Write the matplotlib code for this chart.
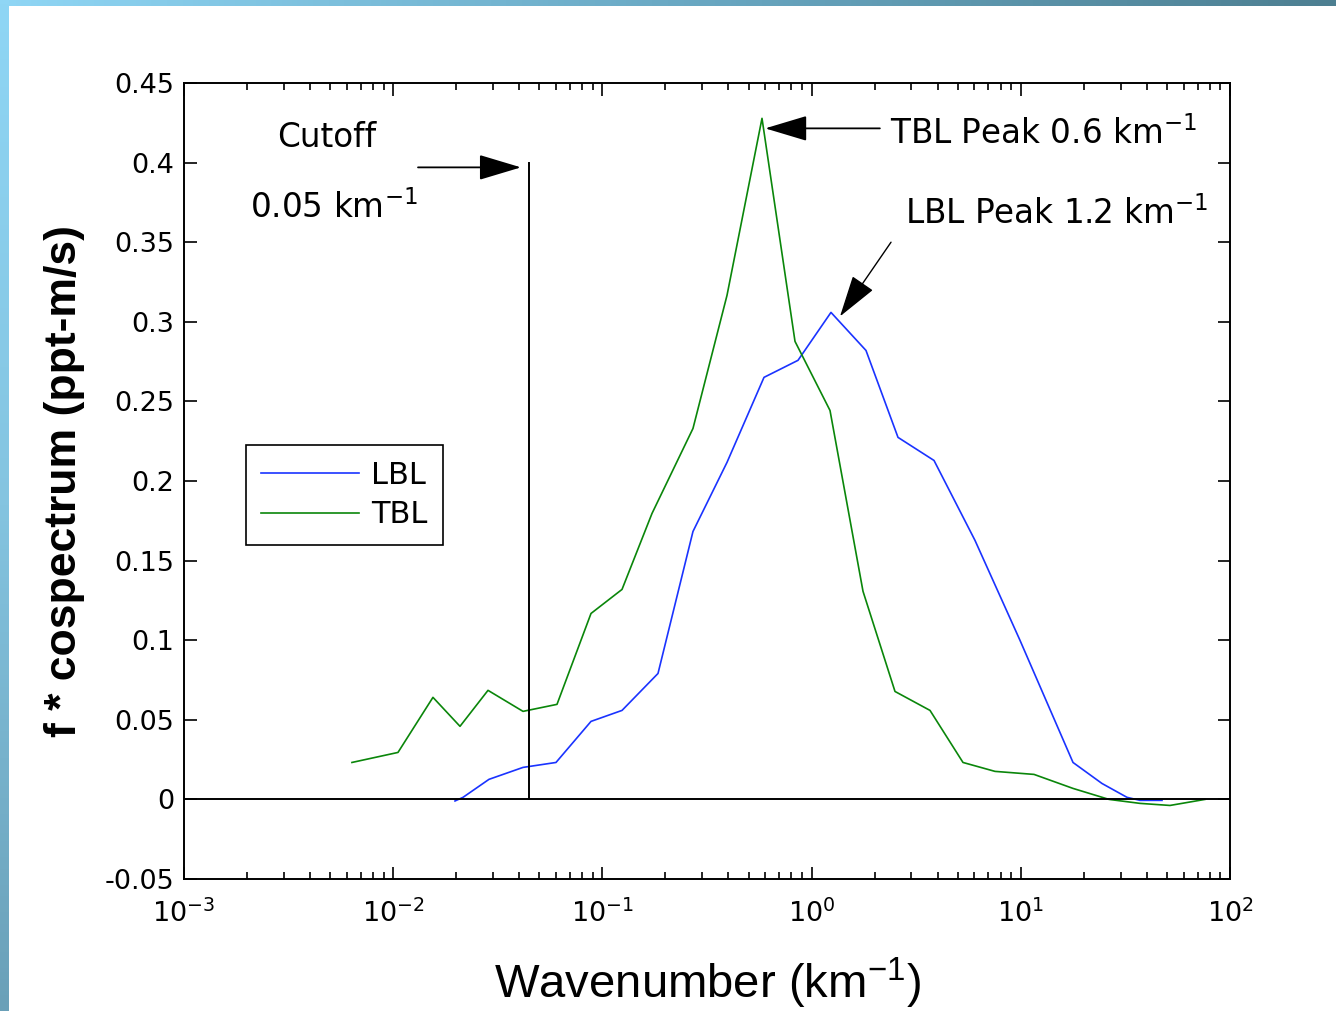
import numpy as np
import matplotlib
matplotlib.use('Agg')
import matplotlib.pyplot as plt
from matplotlib.colors import LinearSegmentedColormap
from matplotlib.ticker import LogLocator, FixedLocator

plt.rcParams['font.family'] = ['DejaVu Sans']
plt.rcParams['mathtext.fontset'] = 'dejavusans'

# wavenumber (km^-1) and f*cospectrum (ppt-m/s)
k_tbl = [0.00635, 0.01054, 0.01549, 0.02086, 0.02839, 0.04174, 0.06067, 0.08822,
         0.1241, 0.1726, 0.2710, 0.3941, 0.5793, 0.8330, 1.2246, 1.7610, 2.5041,
         3.6813, 5.2926, 7.5277, 11.567, 17.765, 26.40, 37.14, 51.67, 75.94]
c_tbl = [0.0232, 0.0295, 0.0641, 0.0459, 0.0685, 0.0553, 0.0597, 0.1168,
         0.1319, 0.1796, 0.2330, 0.3166, 0.4278, 0.2877, 0.2443, 0.1307, 0.0678,
         0.0559, 0.0232, 0.0176, 0.0157, 0.0069, 0.0, -0.0025, -0.0038, 0.0]

k_lbl = [0.01974, 0.02157, 0.02870, 0.04174, 0.06000, 0.08822, 0.1241, 0.1844,
         0.2710, 0.3941, 0.5922, 0.8610, 1.2377, 1.8197, 2.5882, 3.8472, 6.0395,
         9.913, 17.765, 24.44, 32.18, 37.14, 47.31]
c_lbl = [-0.001, 0.0013, 0.0126, 0.0201, 0.0232, 0.0490, 0.0559, 0.0791,
         0.1683, 0.2117, 0.2651, 0.2758, 0.3059, 0.2820, 0.2274, 0.2129, 0.1627,
         0.0999, 0.0232, 0.0100, 0.0013, -0.0006, -0.0006]

cutoff = 0.0446

W, H = 1336, 1011
fig = plt.figure(figsize=(W / 100, H / 100), dpi=100)
fig.patch.set_facecolor('white')

# blue frame strips at top and left
top = fig.add_axes([0, 1 - 6 / H, 1, 6 / H])
top.imshow(np.linspace(0, 1, 256)[None, :], aspect='auto',
           cmap=LinearSegmentedColormap.from_list('t', ['#8fd6f5', '#6aa9c4', '#4d7f91']))
top.axis('off')
left = fig.add_axes([0, 0, 9 / W, 1])
left.imshow(np.linspace(0, 1, 256)[:, None], aspect='auto',
            cmap=LinearSegmentedColormap.from_list('l', ['#8fd6f5', '#84c4e0', '#6aa0b8']))
left.axis('off')

ax = fig.add_axes([184 / W, 1 - 879 / H, 1046 / W, 796 / H])
ax.plot(k_lbl, c_lbl, color='#1a33ff', lw=1.2, label='LBL')
ax.plot(k_tbl, c_tbl, color='#0a860a', lw=1.2, label='TBL')
ax.axhline(0, color='black', lw=1.4)
ax.plot([cutoff, cutoff], [0, 0.4], color='black', lw=1.4)

ax.set_xscale('log')
ax.set_xlim(1e-3, 1e2)
ax.set_ylim(-0.05, 0.45)
ax.yaxis.set_major_locator(FixedLocator(np.arange(-0.05, 0.451, 0.05)))
ax.set_yticklabels(['-0.05', '0', '0.05', '0.1', '0.15', '0.2', '0.25', '0.3',
                    '0.35', '0.4', '0.45'])
ax.xaxis.set_major_locator(LogLocator(base=10, numticks=10))
ax.xaxis.set_minor_locator(LogLocator(base=10, subs=np.arange(2, 10), numticks=20))
ax.tick_params(which='both', direction='in', top=True, right=True, width=1.2)
ax.tick_params(which='major', length=9, labelsize=19.5)
ax.tick_params(axis='y', pad=7)
ax.tick_params(axis='x', pad=15)
ax.tick_params(which='minor', length=5)
for s in ax.spines.values():
    s.set_linewidth(1.4)

ax.set_xlabel('Wavenumber (km$^{\\mathdefault{-1}}$)', family='Liberation Sans',
              fontsize=34, labelpad=20)
ax.set_ylabel('f * cospectrum (ppt-m/s)', family='Liberation Sans',
              fontweight='bold', fontsize=32, labelpad=14)

arr = dict(arrowstyle='-|>,head_length=1.4,head_width=0.42', color='black',
           lw=1.3, mutation_scale=19, shrinkA=0, shrinkB=0)
ax.annotate('', xy=(0.0408, 0.397), xytext=(0.01314, 0.397), arrowprops=arr)
ax.text(0.00483, 0.416, 'Cutoff', fontsize=23.5, ha='center', va='center')
ax.text(0.0052, 0.372, '0.05 km$^{-1}$', fontsize=23.5, ha='center', va='center')

ax.annotate('', xy=(0.60, 0.4215), xytext=(2.12, 0.4215), arrowprops=arr)
ax.text(2.37, 0.418, 'TBL Peak 0.6 km$^{-1}$', fontsize=23.5, ha='left', va='center')

arr2 = dict(arr)
arr2['lw'] = 1.0
ax.annotate('', xy=(1.367, 0.3034), xytext=(2.397, 0.35), arrowprops=arr2)
ax.text(2.80, 0.368, 'LBL Peak 1.2 km$^{-1}$', fontsize=23.5, ha='left', va='center')

leg = ax.legend(loc='lower left', bbox_to_anchor=(0.0593, 0.42), fontsize=22,
                fancybox=False, edgecolor='black', framealpha=1,
                handlelength=3.2, handletextpad=0.4, borderpad=0.5,
                labelspacing=0.35, borderaxespad=0)
leg.get_frame().set_linewidth(1.2)

fig.savefig('out.png', dpi=100)
